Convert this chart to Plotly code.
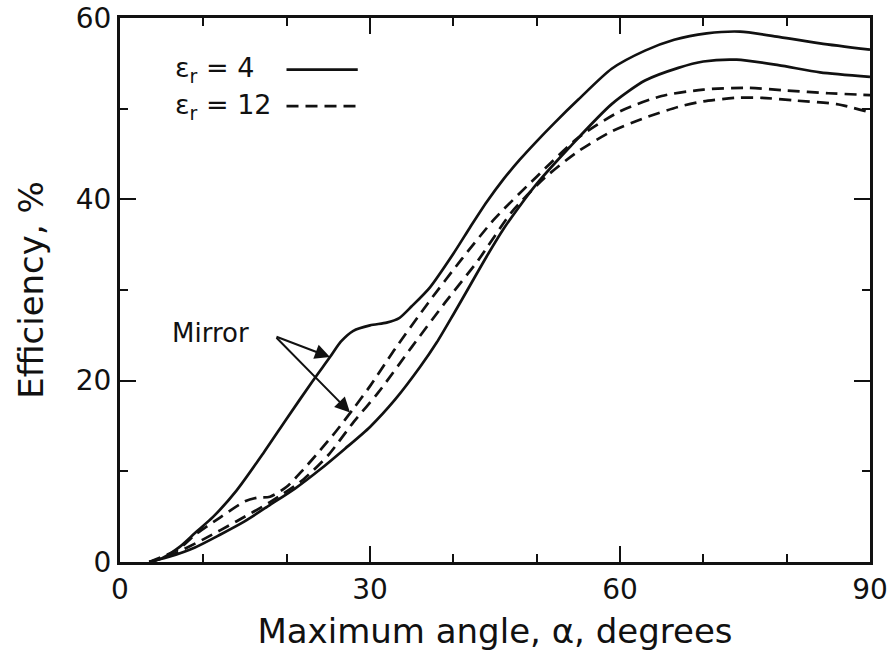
import plotly.graph_objects as go

# Efficiency vs. maximum angle for two substrate permittivities
# (solid: eps_r = 4, dashed: eps_r = 12); the "mirror" variant of each
# shows the characteristic shoulder.

er4_mirror_x = [3.5, 5, 7.2, 9, 11.2, 14, 17.2, 20, 23, 25.2, 26.5, 28, 30, 32,
                33.5, 35, 37.2, 40, 42, 44, 46, 48, 50, 52, 55, 59, 63,
                66.5, 70.4, 74.4, 79.2, 84, 90]
er4_mirror_y = [0, 0.4, 1.7, 3.2, 5.0, 7.9, 12.0, 15.8, 19.8, 22.6, 24.3, 25.5,
                26.1, 26.4, 26.9, 28.2, 30.3, 34.0, 36.9, 39.7, 42.2, 44.4,
                46.4, 48.3, 51.0, 54.4, 56.4, 57.6, 58.3, 58.5, 57.9, 57.2, 56.5]

er4_plain_x = [3.5, 6, 9, 12, 15, 18, 21, 24, 27, 30, 33, 36, 38, 40, 42, 44,
               46, 48, 50, 54, 59, 63, 67, 70, 74, 79, 84, 90]
er4_plain_y = [0, 0.6, 1.6, 3.0, 4.5, 6.3, 8.1, 10.2, 12.5, 14.9, 17.9, 21.5,
               24.2, 27.3, 30.5, 33.7, 36.7, 39.3, 41.7, 45.8, 50.5, 53.1, 54.5,
               55.2, 55.4, 54.8, 54.0, 53.5]

er12_mirror_x = [3.5, 7, 9, 12, 15, 16.5, 18, 20, 22, 24, 26, 28, 30, 33, 37,
                 41, 45, 50, 55, 60, 65, 70, 75, 80, 85, 90]
er12_mirror_y = [0, 1.4, 3.0, 4.9, 6.7, 7.1, 7.2, 8.3, 10.2, 12.3, 14.5, 16.9,
                 19.4, 23.5, 28.6, 33.4, 37.9, 42.5, 46.8, 49.7, 51.4, 52.1,
                 52.3, 52.0, 51.7, 51.5]

er12_plain_x = [3.5, 6, 10, 14, 18, 22, 25, 28, 31, 35, 39, 43, 47, 51, 55, 59,
                63, 67, 70, 74, 77, 81, 86, 90]
er12_plain_y = [0, 0.7, 2.5, 4.5, 6.6, 9.1, 11.8, 15.4, 18.7, 23.7, 28.6, 33.3,
                38.6, 42.4, 45.3, 47.5, 49.0, 50.2, 50.8, 51.2, 51.2, 50.9, 50.5,
                49.6]

x_ticks = [0, 30, 60, 90]
y_ticks = [0, 20, 40, 60]

INK = "#111111"
FONT = "DejaVu Sans"

fig = go.Figure()

curves = [
    (er4_mirror_x, er4_mirror_y, "solid"),
    (er4_plain_x, er4_plain_y, "solid"),
    (er12_mirror_x, er12_mirror_y, "12px,7px"),
    (er12_plain_x, er12_plain_y, "12px,7px"),
]
for xs, ys, dash in curves:
    fig.add_trace(go.Scatter(
        x=xs, y=ys, mode="lines",
        line=dict(color=INK, width=2.7, dash=dash, shape="spline", smoothing=0.7),
        showlegend=False, hoverinfo="skip",
    ))

axis_common = dict(
    showgrid=False, zeroline=False, automargin=False,
    showline=True, linecolor=INK, linewidth=3, mirror="allticks",
    ticks="inside", ticklen=16, tickwidth=2, tickcolor=INK,
    tickfont=dict(family=FONT, size=28, color=INK),
)

fig.update_xaxes(
    range=[0, 90], tickvals=x_ticks, ticktext=[str(v) for v in x_ticks],
    minor=dict(ticks="inside", ticklen=8, tickwidth=2, tickcolor=INK,
               tickvals=[10, 20, 40, 50, 70, 80]),
    title=dict(text="Maximum angle, α, degrees",
               font=dict(family=FONT, size=34, color=INK), standoff=15),
    **axis_common,
)
fig.update_yaxes(
    range=[0, 60], tickvals=y_ticks, ticktext=[str(v) for v in y_ticks],
    minor=dict(ticks="inside", ticklen=8, tickwidth=2, tickcolor=INK,
               tickvals=[10, 30, 50]),
    title=dict(text="Efficiency, %",
               font=dict(family=FONT, size=34, color=INK), standoff=22),
    **axis_common,
)

# Legend: label on the left, line sample on the right
legend_rows = [("ε<sub>r</sub> = 4", "solid", 0.905),
               ("ε<sub>r</sub> = 12", "12px,7px", 0.838)]
for label, dash, yp in legend_rows:
    fig.add_annotation(
        x=0.07, y=yp, xref="paper", yref="paper", xanchor="left", yanchor="middle",
        text=label, showarrow=False, font=dict(family=FONT, size=27, color=INK),
    )
    fig.add_shape(
        type="line", xref="paper", yref="paper",
        x0=0.222, x1=0.317, y0=yp, y1=yp,
        line=dict(color=INK, width=2.7, dash=dash),
    )

# "Mirror" callout with two arrows
fig.add_annotation(
    x=10.8, y=25.3, xref="x", yref="y", text="Mirror", showarrow=False,
    font=dict(family=FONT, size=26, color=INK),
)
for tip_x, tip_y in [(25.2, 22.6), (27.6, 16.5)]:
    fig.add_annotation(
        x=tip_x, y=tip_y, ax=18.6, ay=24.9, xref="x", yref="y",
        axref="x", ayref="y", text="", showarrow=True,
        arrowhead=2, arrowsize=1.5, arrowwidth=2, arrowcolor=INK,
    )

fig.update_layout(
    width=896, height=654,
    margin=dict(l=120, r=26, t=18, b=92),
    paper_bgcolor="white", plot_bgcolor="white",
    font=dict(family=FONT, color=INK),
)

fig.write_html("out.html")
